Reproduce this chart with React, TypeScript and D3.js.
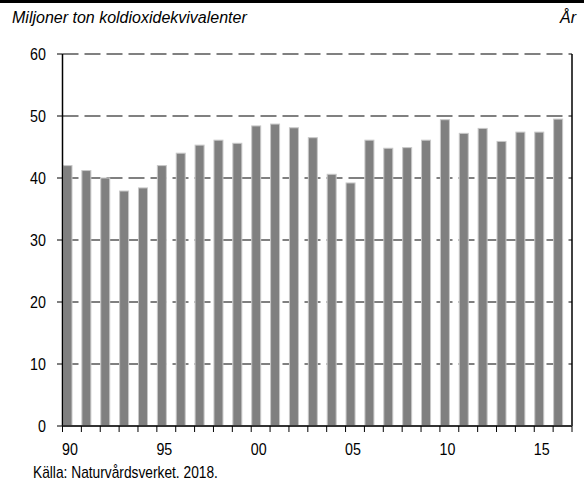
import React from "react";
import * as d3 from "d3";

const years = ["1990","1991","1992","1993","1994","1995","1996","1997","1998","1999","2000","2001","2002","2003","2004","2005","2006","2007","2008","2009","2010","2011","2012","2013","2014","2015","2016"];
const values = [42.0, 41.2, 40.0, 37.9, 38.4, 42.0, 44.0, 45.3, 46.1, 45.6, 48.4, 48.7, 48.1, 46.5, 40.6, 39.2, 46.1, 44.8, 44.9, 46.1, 49.4, 47.2, 48.0, 45.9, 47.4, 47.4, 49.5];
const yTicks = [0, 10, 20, 30, 40, 50, 60];
const xLabels: Record<string, string> = { "1990": "90", "1995": "95", "2000": "00", "2005": "05", "2010": "10", "2015": "15" };
const title = "Miljoner ton koldioxidekvivalenter";
const unit = "År";
const source = "Källa: Naturvårdsverket. 2018.";

const FONT = "'Liberation Sans', Arial, sans-serif";

function CText(props: { x: number; y: number; size: number; anchor?: string; children: React.ReactNode; sx?: number }) {
  const sx = props.sx ?? 0.84;
  return (
    <text transform={`translate(${props.x},${props.y}) scale(${sx},1)`} textAnchor={props.anchor || "start"} fontFamily={FONT} fontSize={props.size} fill="#000">
      {props.children}
    </text>
  );
}

export default function App() {
  const W = 584, H = 481;
  const left = 62.5, right = 572, top = 54, bottom = 426;
  const x = d3.scaleBand<string>().domain(years).range([left, right]).paddingInner(0).paddingOuter(0);
  const y = d3.scaleLinear().domain([0, 60]).range([bottom, top]);
  const bw = x.bandwidth();
  const barW = 10;
  return (
    <svg width={W} height={H} style={{ position: "absolute", left: 0, top: 0, background: "#fff" }}>
      <rect x={0} y={0} width={W} height={3} fill="#000" />
      <text x={12} y={23} fontFamily={FONT} fontStyle="italic" fontSize={16} fill="#000">{title}</text>
      <text x={576} y={23} textAnchor="end" fontFamily={FONT} fontStyle="italic" fontSize={16} fill="#000">{unit}</text>
      {yTicks.filter(t => t > 0).map(t => (
        <line key={"g" + t} x1={left} x2={right} y1={y(t)} y2={y(t)} stroke="#808080" strokeWidth={2} strokeDasharray="16 6" />
      ))}
      {years.map((yr, i) => (
        <rect key={yr} x={(x(yr) as number) + 0.5} y={y(values[i])} width={barW - 1} height={bottom - y(values[i])} fill="#808080" stroke="#c8c8c8" strokeWidth={1} />
      ))}
      <line x1={left} x2={left} y1={top} y2={bottom} stroke="#000" strokeWidth={1.5} />
      <line x1={right} x2={right} y1={top} y2={bottom} stroke="#000" strokeWidth={1.5} />
      <line x1={left} x2={right} y1={bottom} y2={bottom} stroke="#333" strokeWidth={2} />
      {yTicks.map(t => (
        <g key={"y" + t}>
          <line x1={57} x2={left} y1={y(t)} y2={y(t)} stroke="#000" strokeWidth={1} />
          <CText x={46} y={y(t) + 6} size={17} anchor="end">{t}</CText>
        </g>
      ))}
      {years.concat(["end"]).map((yr, i) => {
        const tx = left + i * bw;
        return <line key={"t" + i} x1={tx} x2={tx} y1={bottom} y2={bottom + 6} stroke="#000" strokeWidth={1} />;
      })}
      {years.filter(yr => xLabels[yr]).map(yr => (
        <CText key={"l" + yr} x={(x(yr) as number) + 7.5} y={455} size={17} anchor="middle">{xLabels[yr]}</CText>
      ))}
      <CText x={33} y={478} size={16} sx={0.86}>{source}</CText>
    </svg>
  );
}
